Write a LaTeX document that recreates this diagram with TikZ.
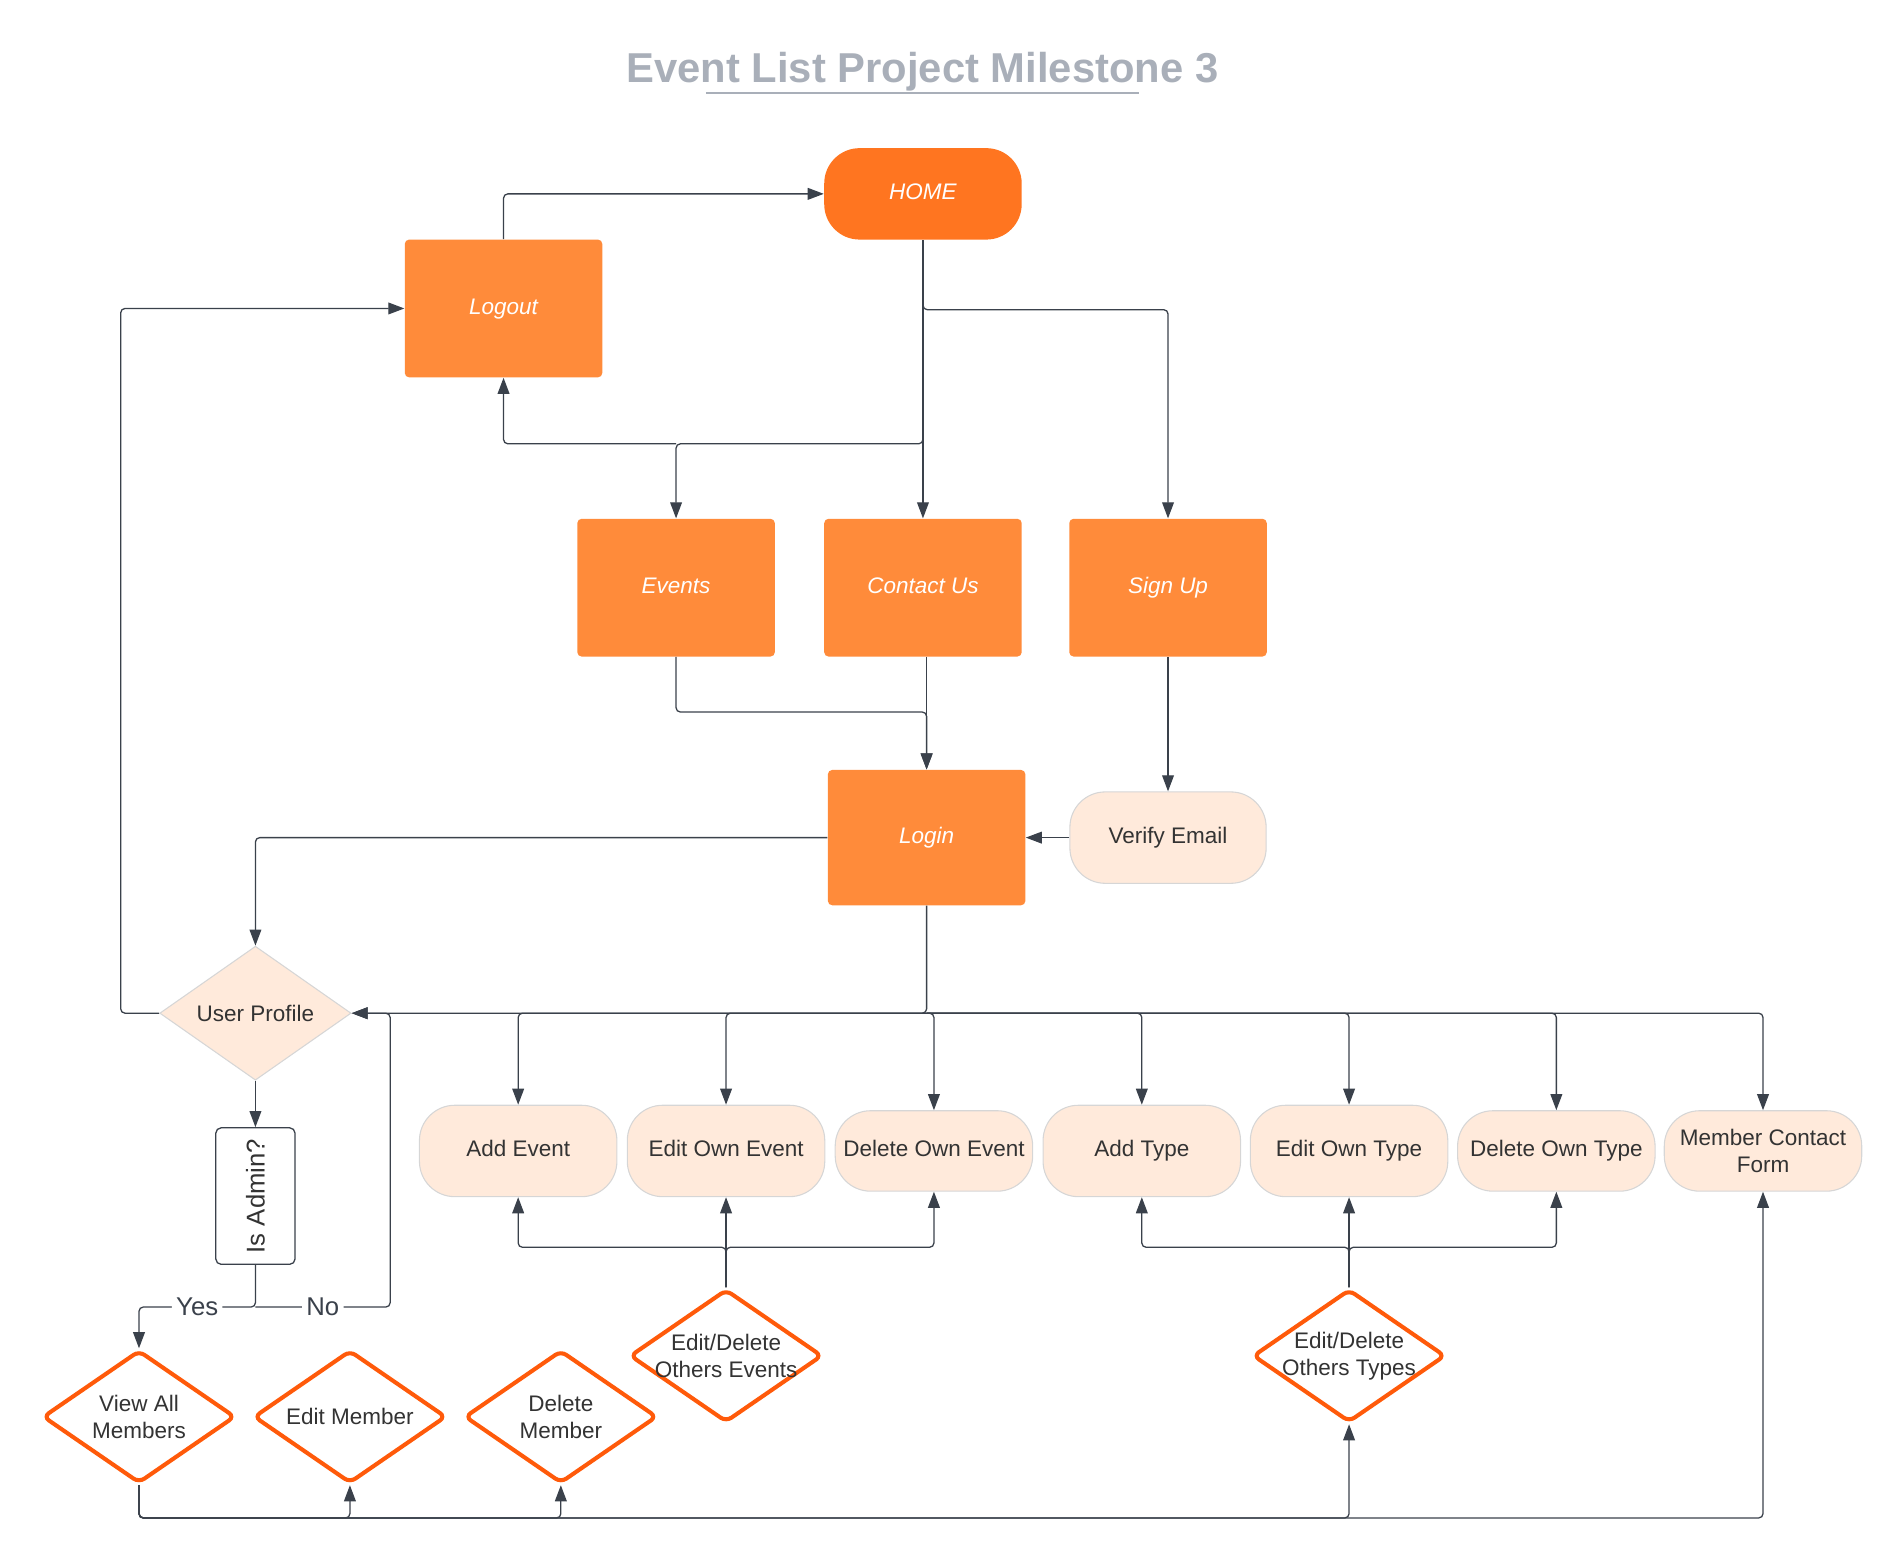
\documentclass[tikz,border=0pt]{standalone}
\usepackage{fontspec}
\setmainfont{Liberation Sans}
\usepackage{graphicx}
\usepackage{xcolor}
\usetikzlibrary{shapes.geometric,arrows.meta}

\definecolor{homeor}{HTML}{FF7520}
\definecolor{boxor}{HTML}{FF8B3A}
\definecolor{peach}{HTML}{FFEADB}
\definecolor{peachline}{HTML}{D6D6D6}
\definecolor{dor}{HTML}{FF5A0A}
\definecolor{lineclr}{HTML}{3A414B}
\definecolor{titleclr}{HTML}{A9AFB9}
\definecolor{txtclr}{HTML}{333333}

\begin{document}
\begin{tikzpicture}
  [x=0.02cm,y=-0.02cm,
   every node/.style={font=\fontsize{10.5}{12.5}\selectfont,text=txtclr,align=center},
   page/.style={rectangle,rounded corners=2pt,fill=boxor,text=white,text height=0.73em,text depth=0.21em,
     font=\itshape\fontsize{10.5}{12.5}\selectfont,minimum width=3.24cm,minimum height=2.26cm},
   pill/.style={rectangle,rounded corners=0.58cm,fill=peach,draw=peachline,line width=0.5pt,
     text height=0.73em,text depth=0.21em,minimum width=3.24cm,minimum height=1.5cm},
   smallpill/.style={pill,minimum height=1.32cm},
   decision/.style={diamond,draw=dor,line width=1.9pt,rounded corners=3pt,fill=white,
     minimum width=3.16cm,minimum height=2.18cm,inner sep=0pt},
   conn/.style={draw=lineclr,line width=0.6pt,rounded corners=2pt,-{Triangle[length=7.5pt,width=5.5pt]}},
   lbl/.style={fill=white,inner sep=2pt,text=lineclr,font=\fontsize{12}{14}\selectfont}]

  \useasboundingbox (0,0) rectangle (1560,1278);

  % title
  \node[font=\bfseries\fontsize{19.5}{22}\selectfont,text=titleclr,anchor=base] (title) at (756.5,68) {Event List Project Milestone 3};
  \draw[titleclr,line width=1pt] (579,76) -- (934,76);

  % pages
  \node[page,fill=homeor,minimum height=1.5cm,rounded corners=0.58cm] (home) at (757,159) {HOME};
  \node[page] (logout) at (413,253) {Logout};
  \node[page] (ev) at (554.5,482) {Events};
  \node[page] (cu) at (757,482) {Contact Us};
  \node[page] (su) at (958,482) {Sign Up};
  \node[page,minimum height=2.22cm] (login) at (760,687) {Login};
  \node[pill,minimum width=3.22cm] (ve) at (958,687) {Verify Email};

  \node[diamond,fill=peach,draw=peachline,line width=0.5pt,minimum width=3.14cm,minimum height=2.18cm,inner sep=0pt] (up) at (209.5,831) {User Profile};
  \node[draw=lineclr,line width=0.6pt,rounded corners=2.5pt,fill=white,minimum width=1.3cm,minimum height=2.24cm,
    inner sep=0pt,font=\fontsize{12}{14}\selectfont] (adm) at (209.5,981) {\rotatebox{90}{Is Admin?}};

  % actions
  \node[pill] (ae) at (425,944) {Add Event};
  \node[pill] (eoe) at (595.5,944) {Edit Own Event};
  \node[smallpill] (doe) at (766,944) {Delete Own Event};
  \node[pill] (at) at (936.5,944) {Add Type};
  \node[pill] (eot) at (1106.5,944) {Edit Own Type};
  \node[smallpill] (dot) at (1276.5,944) {Delete Own Type};
  \node[smallpill,text height=,text depth=] (mcf) at (1446,944) {Member Contact\\Form};

  % admin
  \node[decision,label={center:Edit/Delete\\Others Events}] (doev) at (595.5,1112) {};
  \node[decision,label={center:Edit/Delete\\Others Types}] (doty) at (1106.5,1112) {};
  \node[decision,label={center:View All\\Members}] (vam) at (114,1162) {};
  \node[decision,label={center:Edit Member}] (em) at (287,1162) {};
  \node[decision,label={center:Delete\\Member}] (dm) at (460,1162) {};

  \coordinate (jA) at (0,364);
  \coordinate (jB) at (0,254);
  \coordinate (jC) at (0,584);
  \coordinate (jE) at (0,1023);
  \coordinate (jF) at (0,1072);
  \coordinate (jG) at (0,1245);
  \coordinate (xL) at (99,0);
  \coordinate (xR) at (320,0);

  \foreach \from/\to in {home/cu, su/ve, ve/login, up/adm}
    \draw[conn] (\from) -- (\to);

  \draw[conn] (logout.north) |- (home.west);
  \draw[conn] (home.south) -- (home.south |- jA) -| (ev.north);
  \draw[conn] (ev.north |- jA) -| (logout.south);
  \draw[conn] (home.south) -- (home.south |- jB) -| (su.north);
  \draw[conn] (ev.south) -- (ev.south |- jC) -| (login.north);
  \draw[conn] (cu.south -| login.north) -- (login.north);
  \draw[conn] (login.west) -| (up.north);
  \draw[conn] (login.south) |- (up.east);
  \draw[conn] (up.west) -- (up.west -| xL) |- (logout.west);

  \draw[conn] (adm.south) -- (adm.south |- jF) -- node[lbl]{Yes} (vam.north |- jF) -- (vam.north);
  \draw[conn] (adm.south |- jF) -- node[lbl]{No} (xR |- jF) |- (up.east);

  \foreach \to in {ae,eoe,doe,at,eot,dot,mcf}
    \draw[conn] (login.south |- up.east) -| (\to.north);

  \foreach \to in {ae,eoe,doe}
    \draw[conn] (doev.north) -- (doev.north |- jE) -| (\to.south);
  \foreach \to in {at,eot,dot}
    \draw[conn] (doty.north) -- (doty.north |- jE) -| (\to.south);

  \foreach \to in {em,dm,doty,mcf}
    \draw[conn] (vam.south) -- (vam.south |- jG) -| (\to.south);

\end{tikzpicture}
\end{document}
